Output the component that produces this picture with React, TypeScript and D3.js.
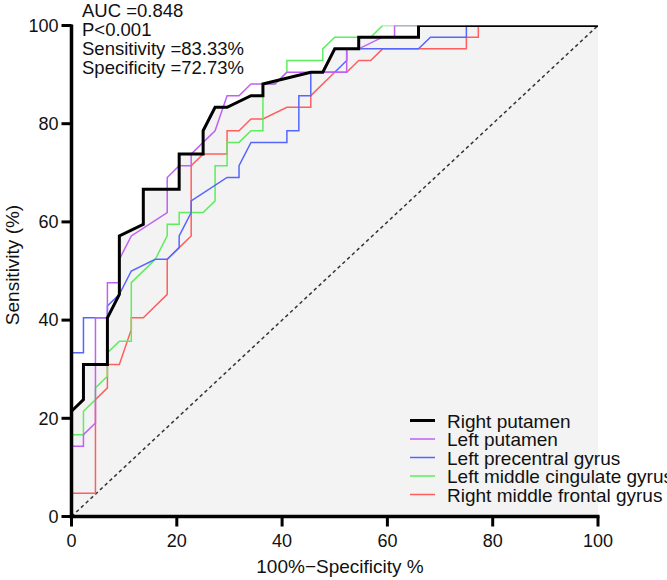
import React from "react";
import * as d3 from "d3";

type P = [number, number];

// 100% - Specificity (x) and Sensitivity (y), in percent
const rightPutamen: P[] = [
  [0, 0], [0, 21.43], [2.27, 23.81], [2.27, 30.95], [6.82, 30.95], [6.82, 40.48],
  [9.09, 45.24], [9.09, 57.14], [13.64, 59.52], [13.64, 66.67], [20.45, 66.67],
  [20.45, 73.81], [25, 73.81], [25, 78.57], [27.27, 83.33], [29.55, 83.33],
  [34.09, 85.71], [36.36, 85.71], [36.36, 88.1], [45.45, 90.48], [47.73, 90.48],
  [50, 95.24], [54.55, 95.24], [54.55, 97.62], [65.91, 97.62], [65.91, 100], [100, 100],
];

const leftPutamen: P[] = [
  [0, 0], [0, 14.29], [2.27, 14.29], [2.27, 16.67], [4.55, 19.05], [4.55, 40.48],
  [6.82, 40.48], [6.82, 47.62], [9.09, 47.62], [9.09, 52.38], [11.36, 57.14],
  [18.18, 61.9], [18.18, 69.05], [20.45, 71.43], [22.73, 71.43], [22.73, 73.81],
  [25, 76.19], [27.27, 78.57], [29.55, 85.71], [31.82, 85.71], [34.09, 88.1],
  [38.64, 88.1], [40.91, 90.48], [52.27, 90.48], [52.27, 95.24], [54.55, 95.24],
  [59.09, 97.62], [61.36, 97.62], [61.36, 100], [100, 100],
];

const leftPrecentral: P[] = [
  [0, 0], [0, 33.33], [2.27, 33.33], [2.27, 40.48], [6.82, 40.48], [6.82, 42.86],
  [9.09, 45.24], [11.36, 50], [15.91, 52.38], [18.18, 52.38], [20.45, 54.76],
  [20.45, 57.14], [22.73, 61.9], [22.73, 64.29], [29.55, 69.05], [31.82, 69.05],
  [31.82, 71.43], [34.09, 76.19], [40.91, 76.19], [40.91, 78.57], [43.18, 78.57],
  [43.18, 85.71], [45.45, 85.71], [45.45, 90.48], [50, 90.48], [52.27, 92.86],
  [52.27, 95.24], [65.91, 95.24], [68.18, 97.62], [75, 97.62], [75, 100], [100, 100],
];

const leftMidCingulate: P[] = [
  [0, 0], [0, 16.67], [2.27, 16.67], [2.27, 21.43], [4.55, 23.81], [4.55, 26.19],
  [6.82, 28.57], [6.82, 33.33], [9.09, 35.71], [11.36, 35.71], [11.36, 47.62],
  [15.91, 52.38], [18.18, 57.14], [18.18, 59.52], [20.45, 59.52], [20.45, 61.9],
  [25, 61.9], [27.27, 64.29], [27.27, 71.43], [29.55, 71.43], [29.55, 76.19],
  [31.82, 76.19], [34.09, 78.57], [36.36, 78.57], [36.36, 88.1], [38.64, 88.1],
  [40.91, 90.48], [40.91, 92.86], [47.73, 92.86], [47.73, 95.24], [50, 97.62],
  [56.82, 97.62], [59.09, 100], [100, 100],
];

const rightMidFrontal: P[] = [
  [0, 0], [0, 4.76], [4.55, 4.76], [4.55, 23.81], [6.82, 26.19], [6.82, 30.95],
  [9.09, 30.95], [11.36, 38.1], [11.36, 40.48], [13.64, 40.48], [18.18, 45.24],
  [18.18, 52.38], [20.45, 54.76], [22.73, 57.14], [22.73, 71.43], [25, 73.81],
  [29.55, 73.81], [29.55, 78.57], [31.82, 78.57], [34.09, 80.95], [36.36, 80.95],
  [40.91, 83.33], [45.45, 83.33], [45.45, 85.71], [50, 90.48], [52.27, 90.48],
  [54.55, 92.86], [56.82, 92.86], [59.09, 95.24], [75, 95.24], [75, 97.62],
  [77.27, 97.62], [77.27, 100], [100, 100],
];

const seriesNames = [
  "Right putamen",
  "Left putamen",
  "Left precentral gyrus",
  "Left middle cingulate gyrus",
  "Right middle frontal gyrus",
];
const seriesData = [rightPutamen, leftPutamen, leftPrecentral, leftMidCingulate, rightMidFrontal];
const seriesColors = ["#000000", "#c060f4", "#5566ff", "#5cee5c", "#ff5f5f"];
const seriesWidths = [3, 1.5, 1.5, 1.5, 1.5];

const tickValues = [0, 20, 40, 60, 80, 100];
const annotation = ["AUC =0.848", "P<0.001", "Sensitivity =83.33%", "Specificity =72.73%"];
const xTitle = "100%\u2212Specificity %";
const yTitle = "Sensitivity (%)";

const W = 667;
const H = 580;
const FONT = "'Liberation Sans', Arial, Helvetica, sans-serif";

export default function App() {
  const x = d3.scaleLinear().domain([0, 100]).range([71.5, 598]);
  const y = d3.scaleLinear().domain([0, 100]).range([516.5, 25.5]);

  const line = d3
    .line<P>()
    .x((d) => x(d[0]))
    .y((d) => y(d[1]));
  const area = d3
    .area<P>()
    .x((d) => x(d[0]))
    .y0(y(0))
    .y1((d) => y(d[1]));

  const drawOrder = [4, 3, 2, 1, 0];

  return (
    <svg
      width={W}
      height={H}
      style={{ position: "absolute", left: 0, top: 0, background: "#fff" }}
      fontFamily={FONT}
    >
      <defs>
        <clipPath id="plotClip">
          <rect x={x(0)} y={y(100)} width={x(100) - x(0)} height={y(0) - y(100)} />
        </clipPath>
      </defs>

      <path d={area(rightPutamen) || ""} fill="#f3f3f3" />

      <line
        x1={x(0)}
        y1={y(0)}
        x2={x(100)}
        y2={y(100)}
        stroke="#333"
        strokeWidth={1.5}
        strokeDasharray="3.5,3"
      />

      <g clipPath="url(#plotClip)">
        {drawOrder.map((i) => (
          <path
            key={i}
            d={line(seriesData[i]) || ""}
            fill="none"
            stroke={seriesColors[i]}
            strokeWidth={seriesWidths[i]}
            strokeLinejoin="miter"
          />
        ))}
      </g>

      {/* axes */}
      <line x1={x(0)} y1={y(100) - 1} x2={x(0)} y2={y(0) + 1.75} stroke="#000" strokeWidth={3.5} />
      <line x1={x(0) - 1.75} y1={y(0)} x2={x(100) + 1.5} y2={y(0)} stroke="#000" strokeWidth={3.5} />
      {tickValues.map((t) => (
        <g key={"y" + t}>
          <line x1={x(0) - 10} x2={x(0)} y1={y(t)} y2={y(t)} stroke="#000" strokeWidth={3} />
          <text
            x={x(0) - 13}
            y={y(t)}
            dy="0.35em"
            textAnchor="end"
            fontSize={18}
            fill="#111"
          >
            {t}
          </text>
        </g>
      ))}
      {tickValues.map((t) => (
        <g key={"x" + t}>
          <line x1={x(t)} x2={x(t)} y1={y(0)} y2={y(0) + 10} stroke="#000" strokeWidth={3} />
          <text x={x(t)} y={547} textAnchor="middle" fontSize={18} fill="#111">
            {t}
          </text>
        </g>
      ))}

      <text x={340} y={573} textAnchor="middle" fontSize={19} fill="#111">
        {xTitle}
      </text>
      <text
        transform={`translate(19,265) rotate(-90)`}
        textAnchor="middle"
        fontSize={19}
        fill="#111"
      >
        {yTitle}
      </text>

      {annotation.map((s, i) => (
        <text key={s} x={82} y={17 + i * 19} fontSize={18.5} fill="#111">
          {s}
        </text>
      ))}

      {seriesNames.map((name, i) => {
        const base = 427.5 + i * 18.5;
        return (
          <g key={name}>
            <line
              x1={410}
              x2={435}
              y1={base - 7}
              y2={base - 7}
              stroke={seriesColors[i]}
              strokeWidth={seriesWidths[i]}
            />
            <text x={447} y={base} fontSize={19} fill="#111">
              {name}
            </text>
          </g>
        );
      })}
    </svg>
  );
}
